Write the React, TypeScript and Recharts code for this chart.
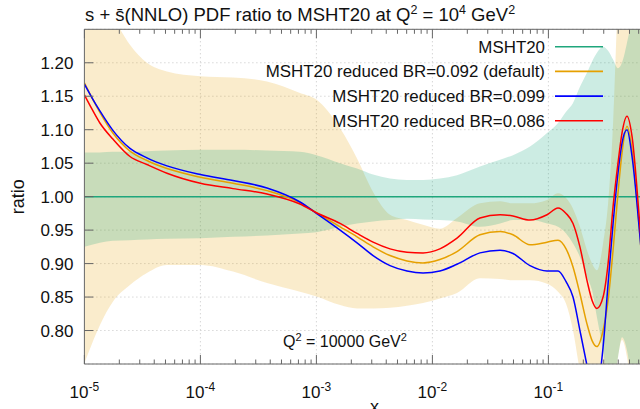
import React from 'react';
import { ComposedChart, Line, Area, XAxis, YAxis, CartesianGrid, Legend, ReferenceLine } from 'recharts';

// x (momentum fraction) sample points
const xValues = [1e-5, 1.16e-5, 1.36e-5, 1.76e-5, 2.47e-5, 3.46e-5, 5.15e-5, 1e-4, 1.91e-4, 3.75e-4, 7.22e-4,
  1e-3, 1.6e-3, 2.24e-3, 3.08e-3, 4.31e-3, 6.04e-3, 8.3e-3, 1.16e-2, 1.63e-2, 2.57e-2, 3.83e-2, 4.95e-2,
  6.94e-2, 9.73e-2, 0.121, 0.142, 0.163, 0.187, 0.215, 0.238, 0.262, 0.296, 0.327, 0.361, 0.398, 0.431,
  0.476, 0.526, 0.616, 0.722];

const msht20 = [1, 1, 1, 1, 1, 1, 1, 1, 1, 1, 1, 1, 1, 1, 1, 1, 1, 1, 1, 1, 1, 1, 1, 1, 1, 1, 1, 1, 1, 1, 1,
  1, 1, 1, 1, 1, 1, 1, 1, 1, 1];

const br092 = [1.170, 1.148, 1.126, 1.095, 1.068, 1.054, 1.042, 1.029, 1.020, 1.009, 0.991, 0.976, 0.955,
  0.940, 0.925, 0.912, 0.904, 0.901, 0.906, 0.918, 0.943, 0.948, 0.943, 0.928, 0.932, 0.935, 0.922, 0.895,
  0.855, 0.81, 0.785, 0.776, 0.80, 0.845, 0.92, 1.005, 1.065, 1.105, 1.07, 0.94, 0.79];

const br099 = [1.168, 1.148, 1.128, 1.099, 1.072, 1.058, 1.046, 1.033, 1.024, 1.013, 0.992, 0.975, 0.950,
  0.931, 0.912, 0.897, 0.889, 0.886, 0.889, 0.899, 0.916, 0.920, 0.915, 0.897, 0.889, 0.889, 0.873, 0.850,
  0.800, 0.748, 0.708, 0.712, 0.775, 0.87, 0.96, 1.035, 1.08, 1.10, 1.06, 0.94, 0.80];

const br086 = [1.152, 1.131, 1.110, 1.086, 1.060, 1.048, 1.035, 1.020, 1.012, 1.004, 0.989, 0.976, 0.960,
  0.945, 0.932, 0.922, 0.917, 0.916, 0.922, 0.938, 0.968, 0.973, 0.971, 0.965, 0.973, 0.983, 0.975, 0.960,
  0.925, 0.875, 0.845, 0.833, 0.85, 0.90, 0.985, 1.05, 1.095, 1.12, 1.09, 0.955, 0.80];

const defaultBandLow = [0.751, 0.78, 0.808, 0.843, 0.868, 0.886, 0.898, 0.898, 0.888, 0.871, 0.858, 0.851,
  0.838, 0.833, 0.833, 0.834, 0.837, 0.841, 0.848, 0.856, 0.878, 0.877, 0.875, 0.875, 0.87, 0.858, 0.84,
  0.80, 0.74, 0.70, 0.68, 0.66, 0.65, 0.66, 0.70, 0.76, 0.786, 0.76, 0.70, 0.65, 0.60];

const defaultBandHigh = [1.40, 1.34, 1.31, 1.27, 1.227, 1.200, 1.187, 1.180, 1.178, 1.172, 1.155, 1.145,
  1.102, 1.057, 1.007, 0.973, 0.965, 0.958, 0.952, 0.968, 0.990, 0.993, 0.990, 0.990, 0.995, 1.005, 0.998,
  0.982, 0.955, 0.92, 0.90, 0.89, 0.93, 0.99, 1.11, 1.30, 1.40, 1.40, 1.40, 1.40, 1.40];

const mshtBandLow = [0.925, 0.928, 0.931, 0.934, 0.935, 0.936, 0.937, 0.938, 0.940, 0.942, 0.945, 0.947,
  0.955, 0.960, 0.963, 0.965, 0.967, 0.966, 0.965, 0.963, 0.955, 0.96, 0.965, 0.965, 0.96, 0.955, 0.945,
  0.93, 0.91, 0.88, 0.86, 0.82, 0.77, 0.72, 0.72, 0.76, 0.79, 0.77, 0.72, 0.65, 0.60];

const mshtBandHigh = [1.066, 1.066, 1.066, 1.067, 1.067, 1.068, 1.069, 1.070, 1.070, 1.069, 1.067, 1.062,
  1.050, 1.042, 1.033, 1.027, 1.025, 1.025, 1.027, 1.032, 1.045, 1.055, 1.062, 1.075, 1.095, 1.110, 1.127,
  1.14, 1.164, 1.185, 1.202, 1.215, 1.224, 1.218, 1.205, 1.192, 1.20, 1.23, 1.27, 1.40, 1.40];

const yTicks = [0.8, 0.85, 0.9, 0.95, 1.0, 1.05, 1.1, 1.15, 1.2];

const seriesNames = ['MSHT20', 'MSHT20 reduced BR=0.092 (default)', 'MSHT20 reduced BR=0.099', 'MSHT20 reduced BR=0.086'];
const seriesColors = ['#1fa67c', '#e6a000', '#0000ff', '#ff0000'];

const rows = xValues.map((x, i) => ({
  x,
  msht20: msht20[i],
  br092: br092[i],
  br099: br099[i],
  br086: br086[i],
  defaultBand: [defaultBandLow[i], defaultBandHigh[i]],
  mshtBand: [mshtBandLow[i], mshtBandHigh[i]],
}));

const xTicks: number[] = [];
for (let d = -5; d <= -1; d++) {
  for (let m = 1; m <= 9; m++) xTicks.push(m * Math.pow(10, d));
}
xTicks.push(1);

const W = 700;
const H = 409;
const PLOT_LEFT = 84.4;
const PLOT_TOP = 29.3;
const PLOT_RIGHT = 664.4;
const PLOT_BOTTOM = 364;
const FONT = '"Liberation Sans", Arial, Helvetica, sans-serif';
const TEXT = '#111';
const AXIS = '#666';

const XTick = (props: any) => {
  const { x, payload } = props;
  const v = payload.value as number;
  const lg = Math.log10(v);
  const e = Math.round(lg);
  const major = Math.abs(lg - e) < 1e-6;
  const len = major ? 9 : 4.5;
  return (
    <g>
      <line x1={x} x2={x} y1={PLOT_BOTTOM} y2={PLOT_BOTTOM - len} stroke={AXIS} strokeWidth={1} />
      <line x1={x} x2={x} y1={PLOT_TOP} y2={PLOT_TOP + len} stroke={AXIS} strokeWidth={1} />
      {major && e < 0 ? (
        <text x={x} y={398} textAnchor="middle" fontSize={17} fontFamily={FONT} fill={TEXT}>
          10<tspan dy={-7} fontSize={12}>{String(e)}</tspan>
        </text>
      ) : null}
    </g>
  );
};

const YTick = (props: any) => {
  const { y, payload } = props;
  return (
    <g>
      <line x1={PLOT_LEFT} x2={PLOT_LEFT + 9} y1={y} y2={y} stroke={AXIS} strokeWidth={1} />
      <text x={73.5} y={y + 6} textAnchor="end" fontSize={17} fontFamily={FONT} fill={TEXT}>
        {(payload.value as number).toFixed(2)}
      </text>
    </g>
  );
};

const LegendContent = () => (
  <svg width={420} height={110} style={{ display: 'block', overflow: 'visible' }}>
    {seriesNames.map((n, i) => {
      const cy = 16.7 + i * 24.7;
      return (
        <g key={n}>
          <text x={345} y={cy + 6} textAnchor="end" fontSize={16.9} fontFamily={FONT} fill={TEXT}>{n}</text>
          <line x1={355} x2={403} y1={cy} y2={cy} stroke={seriesColors[i]} strokeWidth={1.6} />
        </g>
      );
    })}
  </svg>
);

export default function App() {
  return (
    <div style={{ position: 'absolute', left: 0, top: 0, width: 640, height: 409, overflow: 'hidden', background: '#fff' }}>
      <ComposedChart width={W} height={H} data={rows}
        margin={{ top: PLOT_TOP, right: W - PLOT_RIGHT, bottom: 0, left: 0 }}>
        <CartesianGrid stroke="#c4c4c4" strokeDasharray="1 3" verticalValues={[1e-4, 1e-3, 1e-2, 1e-1]} />
        <XAxis dataKey="x" type="number" scale="log" domain={[1e-5, 1]} allowDataOverflow
          ticks={xTicks} interval={0} height={H - PLOT_BOTTOM} tick={<XTick />} tickLine={false}
          axisLine={{ stroke: AXIS, strokeWidth: 1 }} />
        <YAxis type="number" domain={[0.75, 1.25]} allowDataOverflow ticks={yTicks} interval={0}
          width={PLOT_LEFT} tick={<YTick />} tickLine={false} axisLine={{ stroke: AXIS, strokeWidth: 1 }} />
        <Area dataKey="defaultBand" type="monotone" stroke="none" fill="#e69f00" fillOpacity={0.2}
          isAnimationActive={false} legendType="none" activeDot={false} />
        <Area dataKey="mshtBand" type="monotone" stroke="none" fill="#009e73" fillOpacity={0.2}
          isAnimationActive={false} legendType="none" activeDot={false} />
        <ReferenceLine y={1.25} stroke={AXIS} strokeWidth={1} />
        <Line dataKey="msht20" name={seriesNames[0]} stroke={seriesColors[0]} strokeWidth={1.5} dot={false}
          type="monotone" isAnimationActive={false} />
        <Line dataKey="br092" name={seriesNames[1]} stroke={seriesColors[1]} strokeWidth={1.5} dot={false}
          type="monotone" isAnimationActive={false} />
        <Line dataKey="br099" name={seriesNames[2]} stroke={seriesColors[2]} strokeWidth={1.5} dot={false}
          type="monotone" isAnimationActive={false} />
        <Line dataKey="br086" name={seriesNames[3]} stroke={seriesColors[3]} strokeWidth={1.5} dot={false}
          type="monotone" isAnimationActive={false} />
        <Legend layout="vertical" align="center" verticalAlign="middle" content={<LegendContent />}
          wrapperStyle={{ position: 'absolute', left: 200, top: 30, width: 420, height: 110 }} />
      </ComposedChart>
      <svg width={640} height={409} style={{ position: 'absolute', left: 0, top: 0, pointerEvents: 'none' }}>
        <text x={85} y={20.5} fontSize={18.5} fontFamily={FONT} fill={TEXT}>
          s + s̄(NNLO) PDF ratio to MSHT20 at Q<tspan dy={-7} fontSize={12.5}>2</tspan>
          <tspan dy={7}> = 10</tspan><tspan dy={-7} fontSize={12.5}>4</tspan>
          <tspan dy={7}> GeV</tspan><tspan dy={-7} fontSize={12.5}>2</tspan>
        </text>
        <text x={283} y={346.7} fontSize={16} fontFamily={FONT} fill={TEXT}>
          Q<tspan dy={-6} fontSize={11}>2</tspan><tspan dy={6}> = 10000 GeV</tspan><tspan dy={-6} fontSize={11}>2</tspan>
        </text>
        <text transform="translate(24,196.7) rotate(-90)" textAnchor="middle" fontSize={18} fontFamily={FONT} fill={TEXT}>ratio</text>
        <text x={374.4} y={413} textAnchor="middle" fontSize={18} fontFamily={FONT} fill={TEXT}>x</text>
      </svg>
    </div>
  );
}
